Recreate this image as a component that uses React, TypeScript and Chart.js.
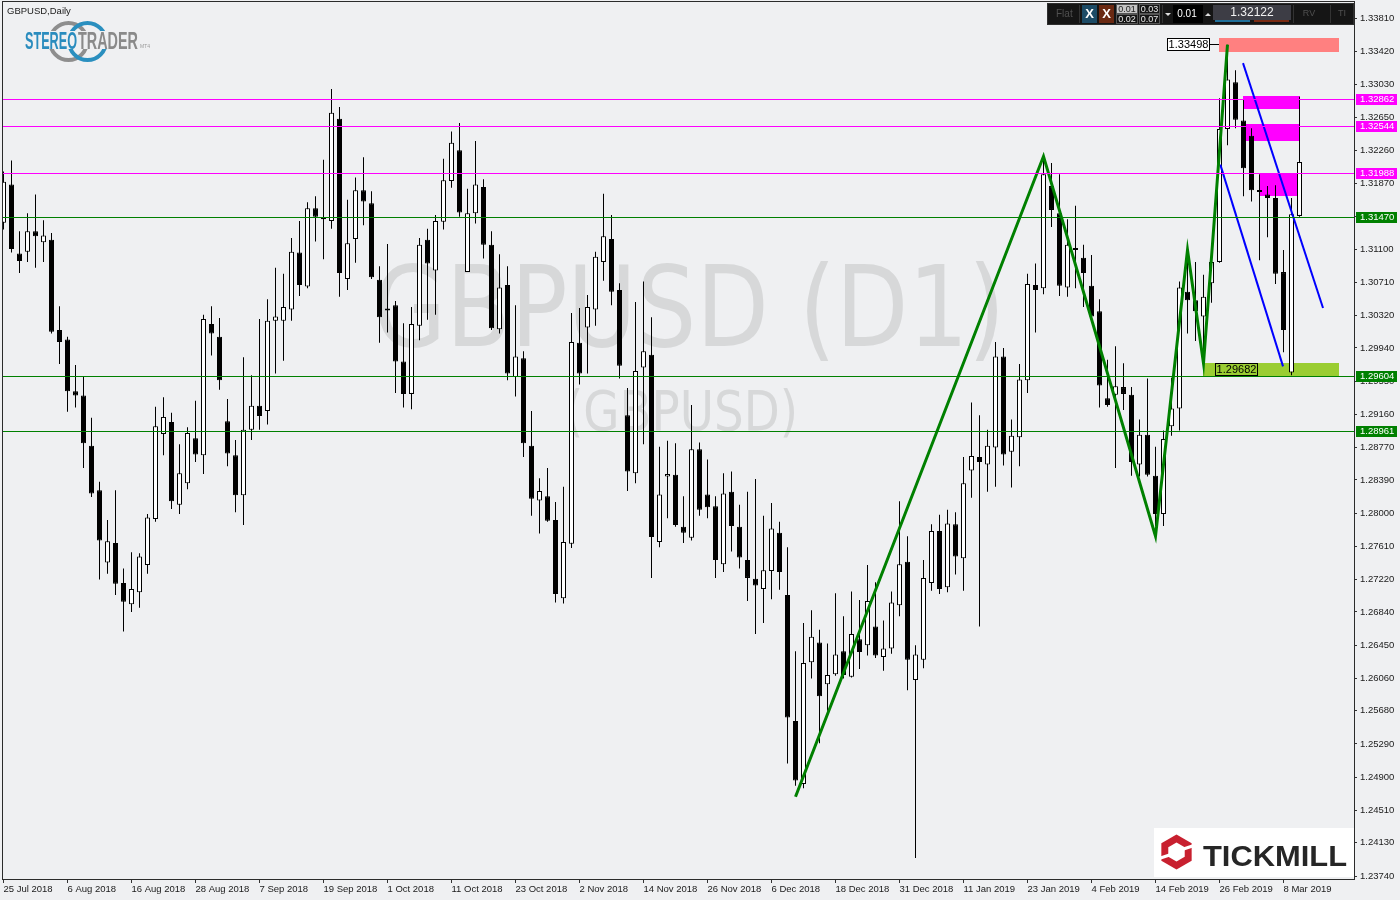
import React, { useEffect, useRef } from 'react';
import { Chart, registerables } from 'chart.js';

Chart.register(...registerables);

const BG = '#EFF0F2';
const FONT = '"Liberation Sans", Arial, sans-serif';

// ---- x axis: one date label every 8 daily bars ----
const dateTicks = ['25 Jul 2018', '6 Aug 2018', '16 Aug 2018', '28 Aug 2018', '7 Sep 2018', '19 Sep 2018', '1 Oct 2018', '11 Oct 2018', '23 Oct 2018', '2 Nov 2018', '14 Nov 2018', '26 Nov 2018', '6 Dec 2018', '18 Dec 2018', '31 Dec 2018', '11 Jan 2019', '23 Jan 2019', '4 Feb 2019', '14 Feb 2019', '26 Feb 2019', '8 Mar 2019'];
const barsPerDateTick = 8;

// ---- y axis tick values ----
const priceTicks = [1.3381, 1.3342, 1.3303, 1.3265, 1.3226, 1.3187, 1.3148, 1.311, 1.3071, 1.3032, 1.2994, 1.2955, 1.2916, 1.2877, 1.2839, 1.28, 1.2761, 1.2722, 1.2684, 1.2645, 1.2606, 1.2568, 1.2529, 1.249, 1.2451, 1.2413, 1.2374];

// ---- OHLC (daily GBPUSD) ----
const opens = [
  1.3141, 1.3186, 1.3105, 1.3107, 1.3131, 1.3118, 1.3121, 1.3015, 1.3004, 1.2943,
  1.2938, 1.2879, 1.2827, 1.2742, 1.2765, 1.2718, 1.2693, 1.2707, 1.2739, 1.2793,
  1.2893, 1.2907, 1.2810, 1.2835, 1.2888, 1.2868, 1.3022, 1.3007, 1.2908, 1.2868,
  1.2821, 1.2898, 1.2926, 1.2920, 1.3026, 1.3026, 1.3039, 1.3106, 1.3066, 1.3158,
  1.3147, 1.3143, 1.3263, 1.3075, 1.3122, 1.3179, 1.3164, 1.3074, 1.3039, 1.3044,
  1.2978, 1.2940, 1.3020, 1.3121, 1.3085, 1.3142, 1.3190, 1.3226, 1.3083, 1.3152,
  1.3183, 1.3115, 1.3016, 1.3068, 1.2960, 1.2982, 1.2879, 1.2815, 1.2820, 1.2792,
  1.2700, 1.2764, 1.3000, 1.3018, 1.3039, 1.3095, 1.3122, 1.3062, 1.2915, 1.2847,
  1.2971, 1.2986, 1.2766, 1.2843, 1.2845, 1.2784, 1.2771, 1.2875, 1.2822, 1.2808,
  1.2740, 1.2825, 1.2784, 1.2745, 1.2723, 1.2711, 1.2732, 1.2777, 1.2704, 1.2556,
  1.2482, 1.2625, 1.2648, 1.2599, 1.2611, 1.2638, 1.2608, 1.2652, 1.2645, 1.2667,
  1.2631, 1.2641, 1.2692, 1.2743, 1.2604, 1.2628, 1.2718, 1.2779, 1.2713, 1.2787,
  1.2747, 1.2850, 1.2866, 1.2857, 1.2877, 1.2984, 1.2872, 1.2889, 1.2956, 1.3068,
  1.3064, 1.3184, 1.3152, 1.3065, 1.3110, 1.3100, 1.3067, 1.3037, 1.2935, 1.2939,
  1.2948, 1.2939, 1.2857, 1.2892, 1.2844, 1.2799, 1.2902, 1.2923, 1.3060, 1.3050,
  1.3031, 1.3070, 1.3095, 1.3251, 1.3306, 1.3261, 1.3243, 1.3177, 1.3174, 1.3170,
  1.3083, 1.2965, 1.3149,
];
const highs = [
  1.3201, 1.3214, 1.3131, 1.3152, 1.3174, 1.3144, 1.3129, 1.3043, 1.3007, 1.2974,
  1.2960, 1.2912, 1.2837, 1.2792, 1.2827, 1.2735, 1.2754, 1.2753, 1.2799, 1.2925,
  1.2936, 1.2918, 1.2881, 1.2901, 1.2932, 1.3033, 1.3043, 1.3029, 1.2934, 1.2886,
  1.2983, 1.2962, 1.3028, 1.3051, 1.3088, 1.3081, 1.3123, 1.3143, 1.3165, 1.3172,
  1.3215, 1.3298, 1.3277, 1.3168, 1.3194, 1.3218, 1.3178, 1.3090, 1.3116, 1.3049,
  1.3023, 1.3042, 1.3123, 1.3134, 1.3150, 1.3216, 1.3248, 1.3258, 1.3181, 1.3237,
  1.3192, 1.3131, 1.3104, 1.3090, 1.3044, 1.2990, 1.2920, 1.2841, 1.2853, 1.2813,
  1.2831, 1.3035, 1.3041, 1.3056, 1.3107, 1.3175, 1.3150, 1.3070, 1.2947, 1.3048,
  1.3072, 1.3030, 1.2878, 1.2885, 1.2882, 1.2820, 1.2927, 1.2883, 1.2863, 1.2820,
  1.2847, 1.2849, 1.2810, 1.2825, 1.2840, 1.2797, 1.2812, 1.2790, 1.2760, 1.2638,
  1.2671, 1.2686, 1.2663, 1.2647, 1.2706, 1.2679, 1.2708, 1.2698, 1.2739, 1.2719,
  1.2674, 1.2708, 1.2814, 1.2773, 1.2645, 1.2745, 1.2787, 1.2798, 1.2804, 1.2801,
  1.2866, 1.2930, 1.2915, 1.2898, 1.3001, 1.2994, 1.2910, 1.2975, 1.3081, 1.3093,
  1.3215, 1.3211, 1.3198, 1.3145, 1.3161, 1.3115, 1.3103, 1.3051, 1.2980, 1.2996,
  1.2976, 1.2948, 1.2910, 1.2958, 1.2878, 1.2897, 1.2959, 1.3072, 1.3109, 1.3095,
  1.3080, 1.3114, 1.3287, 1.3350, 1.3320, 1.3285, 1.3252, 1.3198, 1.3184, 1.3185,
  1.3109, 1.3170, 1.3289,
];
const lows = [
  1.3133, 1.3106, 1.3082, 1.3095, 1.3088, 1.3095, 1.3011, 1.2975, 1.2919, 1.2924,
  1.2853, 1.2819, 1.2722, 1.2729, 1.2704, 1.2661, 1.2684, 1.2689, 1.2729, 1.2790,
  1.2868, 1.2805, 1.2799, 1.2828, 1.2860, 1.2846, 1.2985, 1.2945, 1.2855, 1.2801,
  1.2786, 1.2886, 1.2898, 1.2904, 1.2964, 1.2979, 1.3026, 1.3055, 1.3064, 1.3119,
  1.3098, 1.3134, 1.3054, 1.3062, 1.3094, 1.3138, 1.3075, 1.3000, 1.3012, 1.2941,
  1.2924, 1.2922, 1.3003, 1.3027, 1.3033, 1.3133, 1.3182, 1.3148, 1.3083, 1.3140,
  1.3099, 1.3015, 1.3011, 1.2956, 1.2937, 1.2866, 1.2797, 1.2776, 1.2790, 1.2695,
  1.2694, 1.2759, 1.2951, 1.2964, 1.3020, 1.3073, 1.3044, 1.2958, 1.2826, 1.2835,
  1.2881, 1.2724, 1.2760, 1.2794, 1.2784, 1.2765, 1.2768, 1.2797, 1.2794, 1.2724,
  1.2731, 1.2755, 1.2735, 1.2697, 1.2658, 1.2671, 1.2699, 1.2710, 1.2506, 1.2480,
  1.2477, 1.2606, 1.2530, 1.2568, 1.2609, 1.2606, 1.2607, 1.2617, 1.2633, 1.2630,
  1.2615, 1.2635, 1.2679, 1.2592, 1.2395, 1.2618, 1.2709, 1.2705, 1.2707, 1.2728,
  1.2709, 1.2818, 1.2667, 1.2825, 1.2831, 1.2856, 1.2830, 1.2855, 1.2941, 1.3012,
  1.3057, 1.3136, 1.3055, 1.3054, 1.3064, 1.3042, 1.3029, 1.2924, 1.2925, 1.2853,
  1.2921, 1.2844, 1.2843, 1.2843, 1.2785, 1.2785, 1.2891, 1.2897, 1.3011, 1.3002,
  1.2974, 1.3047, 1.3094, 1.3232, 1.3252, 1.3172, 1.3166, 1.3097, 1.3124, 1.3069,
  1.2989, 1.2962, 1.3148,
];
const closes = [
  1.3189, 1.3110, 1.3096, 1.3131, 1.3125, 1.3126, 1.3013, 1.3001, 1.2943, 1.2938,
  1.2882, 1.2823, 1.2768, 1.2767, 1.2717, 1.2696, 1.2711, 1.2749, 1.2795, 1.2902,
  1.2913, 1.2814, 1.2847, 1.2894, 1.2869, 1.3028, 1.3011, 1.2956, 1.2870, 1.2821,
  1.2898, 1.2926, 1.2914, 1.3026, 1.3031, 1.3042, 1.3107, 1.3068, 1.3158, 1.3148,
  1.3145, 1.3270, 1.3082, 1.3117, 1.3179, 1.3166, 1.3077, 1.3030, 1.3038, 1.2978,
  1.2940, 1.3022, 1.3115, 1.3093, 1.3143, 1.3191, 1.3235, 1.3153, 1.3152, 1.3186,
  1.3115, 1.3017, 1.3065, 1.2964, 1.2984, 1.2882, 1.2817, 1.2826, 1.2791, 1.2705,
  1.2766, 1.3001, 1.2964, 1.3042, 1.3101, 1.3125, 1.3060, 1.2973, 1.2849, 1.2967,
  1.2990, 1.2772, 1.2822, 1.2846, 1.2786, 1.2777, 1.2875, 1.2804, 1.2807, 1.2745,
  1.2823, 1.2785, 1.2748, 1.2724, 1.2715, 1.2733, 1.2782, 1.2731, 1.2560, 1.2486,
  1.2624, 1.2655, 1.2585, 1.2610, 1.2634, 1.2610, 1.2658, 1.2637, 1.2697, 1.2633,
  1.2641, 1.2695, 1.2740, 1.2628, 1.2634, 1.2724, 1.2779, 1.2711, 1.2788, 1.2749,
  1.2835, 1.2867, 1.2860, 1.2879, 1.2984, 1.2869, 1.2891, 1.2957, 1.3069, 1.3062,
  1.3198, 1.3156, 1.3067, 1.3115, 1.3109, 1.3082, 1.3031, 1.2950, 1.2927, 1.2949,
  1.2940, 1.2860, 1.2892, 1.2845, 1.2799, 1.2887, 1.2923, 1.3065, 1.3050, 1.3037,
  1.3054, 1.3095, 1.3251, 1.3309, 1.3262, 1.3205, 1.3179, 1.3179, 1.3170, 1.3081,
  1.3015, 1.3151, 1.32122,
];
const currentPrice = 1.32122;

// ---- horizontal levels ----
const levelPrices = [1.32862, 1.32544, 1.31988, 1.3147, 1.29604, 1.28961];
const levelKinds = ['res', 'res', 'res', 'sup', 'sup', 'sup'];

// ---- zigzag (bar index, price) ----
const zigzagBars = [99, 130, 144, 148, 150, 153];
const zigzagPrices = [1.2467, 1.3219, 1.2773, 1.3109, 1.2976, 1.3350];

// ---- channel lines ----
const upperChannelBars = [154.94, 164.94];
const upperChannelPrices = [1.33284, 1.30409];
const lowerChannelBars = [152.1, 159.94];
const lowerChannelPrices = [1.32092, 1.29723];

// ---- zones (bar index range, price range) ----
const zoneStart = [151.94, 154.97, 155.3, 157.0, 149.9];
const zoneEnd = [166.9, 162, 162, 161.7, 166.9];
const zoneHigh = [1.33578, 1.32899, 1.32569, 1.3199, 1.29763];
const zoneLow = [1.33419, 1.32748, 1.32375, 1.31727, 1.29604];
const zoneKinds = ['target', 'sell', 'sell', 'sell', 'buy'];

// ---- price markers ----
const markerBars = [151.94, 151.45];
const markerPrices = [1.33498, 1.29682];
const markerSides = ['left', 'right'];

const COLORS: any = {
  res: '#FF00FF', sup: '#008000', target: '#FF8080', sell: '#FF00FF', buy: '#9ACD32',
};

function fitText(ctx: any, text: string, font: string, left: number, right: number, baseline: number, color: string) {
  ctx.save();
  ctx.font = font;
  ctx.fillStyle = color;
  ctx.textAlign = 'left';
  ctx.textBaseline = 'alphabetic';
  const w = ctx.measureText(text).width;
  ctx.translate(left, baseline);
  ctx.scale((right - left) / w, 1);
  ctx.fillText(text, 0, 0);
  ctx.restore();
}

function drawToolbar(ctx: any) {
  ctx.save();
  ctx.fillStyle = '#151515';
  ctx.fillRect(1047, 3, 307, 22);
  ctx.strokeStyle = '#2f2f2f';
  ctx.lineWidth = 1;
  ctx.strokeRect(1047.5, 3.5, 306, 21);
  ctx.textBaseline = 'middle';
  ctx.textAlign = 'left';
  ctx.font = `10px ${FONT}`;
  ctx.fillStyle = '#505050';
  ctx.fillText('Flat', 1056, 14);
  ctx.strokeStyle = '#333333';
  [1079.5, 1162.5, 1293.5, 1330.5].forEach((x) => {
    ctx.beginPath(); ctx.moveTo(x, 5); ctx.lineTo(x, 23); ctx.stroke();
  });
  ctx.fillStyle = '#1c4b66';
  ctx.fillRect(1082, 5, 15, 18);
  ctx.fillStyle = '#6a2912';
  ctx.fillRect(1099, 5, 15, 18);
  ctx.fillStyle = '#ffffff';
  ctx.font = `bold 13px ${FONT}`;
  ctx.textAlign = 'center';
  ctx.fillText('X', 1089.5, 14.5);
  ctx.fillText('X', 1106.5, 14.5);
  // lot grid
  ctx.fillStyle = '#c4c4c4';
  ctx.fillRect(1117, 5, 20, 8);
  ctx.strokeStyle = '#555555';
  ctx.strokeRect(1116.5, 4.5, 21, 9);
  ctx.strokeRect(1139.5, 4.5, 20, 9);
  ctx.strokeRect(1116.5, 14.5, 21, 9);
  ctx.strokeRect(1139.5, 14.5, 20, 9);
  ctx.font = `9px ${FONT}`;
  ctx.fillStyle = '#222222';
  ctx.fillText('0.01', 1127, 9.5);
  ctx.fillStyle = '#e8e8e8';
  ctx.fillText('0.03', 1149.5, 9.5);
  ctx.fillText('0.02', 1127, 19.5);
  ctx.fillText('0.07', 1149.5, 19.5);
  // arrows + lot box
  ctx.fillStyle = '#dddddd';
  ctx.beginPath(); ctx.moveTo(1165, 13); ctx.lineTo(1171, 13); ctx.lineTo(1168, 16); ctx.closePath(); ctx.fill();
  ctx.beginPath(); ctx.moveTo(1205, 16); ctx.lineTo(1211, 16); ctx.lineTo(1208, 13); ctx.closePath(); ctx.fill();
  ctx.fillStyle = '#000000';
  ctx.fillRect(1173, 5, 30, 18);
  ctx.fillStyle = '#ffffff';
  ctx.font = `10px ${FONT}`;
  ctx.fillText('0.01', 1187, 14.5);
  // price box
  ctx.fillStyle = '#3d3d45';
  ctx.fillRect(1213, 5, 78, 15);
  ctx.fillStyle = '#f2f2f2';
  ctx.font = `12px ${FONT}`;
  ctx.fillText(currentPrice.toFixed(5), 1252, 12.5);
  ctx.fillStyle = '#1f6f9a';
  ctx.fillRect(1215, 20, 35, 2);
  ctx.fillStyle = '#7a2a12';
  ctx.fillRect(1254, 20, 35, 2);
  ctx.fillStyle = '#505050';
  ctx.font = `9px ${FONT}`;
  ctx.fillText('RV', 1309, 14);
  ctx.fillText('TI', 1342, 14);
  ctx.restore();
}

function drawStereoLogo(ctx: any) {
  ctx.save();
  ctx.lineWidth = 4;
  ctx.strokeStyle = '#8e8e8e';
  ctx.beginPath(); ctx.arc(68.5, 41.5, 18.5, 0, Math.PI * 2); ctx.stroke();
  ctx.strokeStyle = '#2a8fbf';
  ctx.beginPath(); ctx.arc(87.5, 41.5, 18.5, 0, Math.PI * 2); ctx.stroke();
  ctx.fillStyle = BG;
  ctx.fillRect(24, 31, 120, 18);
  fitText(ctx, 'STEREO', `bold 23px ${FONT}`, 25, 77, 48.5, '#2a8cbe');
  fitText(ctx, 'TRADER', `bold 23px ${FONT}`, 78, 138, 48.5, '#8a8a8a');
  ctx.fillStyle = '#9a9a9a';
  ctx.font = `5px ${FONT}`;
  ctx.fillText('MT4', 140, 48);
  ctx.fillStyle = '#202020';
  ctx.font = `9.5px ${FONT}`;
  ctx.textBaseline = 'middle';
  ctx.fillText('GBPUSD,Daily', 7, 11);
  ctx.restore();
}

function drawTickmill(ctx: any) {
  ctx.save();
  ctx.fillStyle = '#ffffff';
  ctx.fillRect(1154, 828, 200, 49);
  const cx = 1176.5, cy = 852;
  const hex = (rad: number) => {
    ctx.beginPath();
    for (let i = 0; i < 6; i++) {
      const a = -Math.PI / 2 + (i * Math.PI) / 3;
      const px = cx + rad * Math.cos(a), py = cy + rad * Math.sin(a);
      if (i) ctx.lineTo(px, py); else ctx.moveTo(px, py);
    }
    ctx.closePath();
  };
  ctx.fillStyle = '#C8202F';
  hex(17.5); ctx.fill();
  ctx.fillStyle = '#ffffff';
  hex(9.5); ctx.fill();
  ctx.strokeStyle = '#ffffff';
  ctx.lineWidth = 3;
  ctx.beginPath(); ctx.moveTo(cx + 7, cy - 3); ctx.lineTo(cx + 19, cy - 7); ctx.stroke();
  ctx.beginPath(); ctx.moveTo(cx - 7, cy + 3); ctx.lineTo(cx - 19, cy + 7); ctx.stroke();
  fitText(ctx, 'TICKMILL', `bold 29px ${FONT}`, 1203, 1347, 866, '#262626');
  ctx.restore();
}

const overlayPlugin = {
  id: 'mt4Overlay',
  beforeDraw(chart: any) {
    const ctx = chart.ctx;
    ctx.save();
    ctx.fillStyle = BG;
    ctx.fillRect(0, 0, chart.width, chart.height);
    ctx.restore();
  },
  beforeDatasetsDraw(chart: any) {
    const ctx = chart.ctx;
    const { x, y } = chart.scales;
    const area = chart.chartArea;
    ctx.save();
    ctx.beginPath();
    ctx.rect(area.left, area.top, area.right - area.left, area.bottom - area.top);
    ctx.clip();
    fitText(ctx, 'GBPUSD (D1)', '112px "DejaVu Sans", sans-serif', 373, 1005, 346, '#D7D8D9');
    fitText(ctx, '(GBPUSD)', '55px "DejaVu Sans", sans-serif', 565, 798, 430, '#D7D8D9');
    zoneStart.forEach((s, i) => {
      const x0 = x.getPixelForValue(s), x1 = x.getPixelForValue(zoneEnd[i]);
      const y0 = y.getPixelForValue(zoneHigh[i]), y1 = y.getPixelForValue(zoneLow[i]);
      ctx.fillStyle = COLORS[zoneKinds[i]];
      ctx.fillRect(Math.round(x0), Math.round(y0), Math.round(x1) - Math.round(x0), Math.round(y1) - Math.round(y0));
    });
    ctx.restore();
  },
  afterDatasetsDraw(chart: any) {
    const ctx = chart.ctx;
    const { x, y } = chart.scales;
    const area = chart.chartArea;
    ctx.save();
    ctx.lineWidth = 1;
    levelPrices.forEach((p, i) => {
      const py = Math.floor(y.getPixelForValue(p)) + 0.5;
      ctx.strokeStyle = COLORS[levelKinds[i]];
      ctx.beginPath(); ctx.moveTo(area.left, py); ctx.lineTo(area.right, py); ctx.stroke();
    });
    ctx.font = `11px ${FONT}`;
    ctx.textBaseline = 'middle';
    ctx.textAlign = 'center';
    markerBars.forEach((b, i) => {
      const ax = Math.round(x.getPixelForValue(b));
      const ay = Math.floor(y.getPixelForValue(markerPrices[i])) + 0.5;
      const w = 42, h = 12;
      const left = markerSides[i] === 'left' ? ax - 10 - w : ax;
      if (markerSides[i] === 'left') {
        ctx.strokeStyle = '#000';
        ctx.beginPath(); ctx.moveTo(ax - 10, ay); ctx.lineTo(ax, ay); ctx.stroke();
        ctx.fillStyle = '#ffffff';
      } else {
        ctx.fillStyle = COLORS.buy;
      }
      ctx.fillRect(left + 0.5, ay - 6, w, h);
      ctx.strokeStyle = '#000';
      ctx.strokeRect(left + 0.5, ay - 6, w, h);
      ctx.fillStyle = '#000';
      ctx.fillText(markerPrices[i].toFixed(5), left + 0.5 + w / 2, ay + 0.5);
    });
    ctx.restore();
  },
  afterDraw(chart: any) {
    const ctx = chart.ctx;
    const { y } = chart.scales;
    const area = chart.chartArea;
    drawTickmill(ctx);
    ctx.save();
    ctx.font = `9.5px ${FONT}`;
    ctx.textBaseline = 'middle';
    ctx.textAlign = 'left';
    levelPrices.forEach((p, i) => {
      const py = Math.floor(y.getPixelForValue(p));
      ctx.fillStyle = COLORS[levelKinds[i]];
      ctx.fillRect(area.right + 2, py - 5, 41, 11);
      ctx.fillStyle = '#ffffff';
      ctx.fillText(p.toFixed(5), area.right + 6, py + 0.5);
    });
    ctx.strokeStyle = '#2b2b2b';
    ctx.lineWidth = 1;
    ctx.strokeRect(area.left + 0.5, area.top + 0.5, area.right - area.left, area.bottom - area.top);
    ctx.restore();
    drawToolbar(ctx);
    drawStereoLogo(ctx);
  },
};

export default function App() {
  const ref = useRef<HTMLCanvasElement>(null);
  useEffect(() => {
    document.body.style.margin = '0';
    const idx = opens.map((_, i) => i);
    const chart = new Chart(ref.current as HTMLCanvasElement, {
      type: 'bar',
      data: {
        datasets: [
          {
            type: 'line', label: 'zigzag',
            data: zigzagBars.map((b, i) => ({ x: b, y: zigzagPrices[i] })),
            borderColor: '#008000', borderWidth: 3, pointRadius: 0, tension: 0, order: 0,
          },
          {
            type: 'line', label: 'upper',
            data: upperChannelBars.map((b, i) => ({ x: b, y: upperChannelPrices[i] })),
            borderColor: '#0000FF', borderWidth: 2, pointRadius: 0, order: 0,
          },
          {
            type: 'line', label: 'lower',
            data: lowerChannelBars.map((b, i) => ({ x: b, y: lowerChannelPrices[i] })),
            borderColor: '#0000FF', borderWidth: 2, pointRadius: 0, order: 0,
          },
          {
            type: 'bar', label: 'bodies',
            data: idx.map((i) => ({ x: i, y: [opens[i], closes[i]] })),
            backgroundColor: idx.map((i) => (closes[i] >= opens[i] ? '#FFFFFF' : '#000000')),
            borderColor: '#000000', borderWidth: 1, borderSkipped: false,
            barThickness: 5, grouped: false, minBarLength: 2, inflateAmount: 0, order: 1,
          },
          {
            type: 'bar', label: 'wicks',
            data: idx.map((i) => ({ x: i, y: [lows[i], highs[i]] })),
            backgroundColor: '#000000', borderWidth: 0,
            barThickness: 1, grouped: false, inflateAmount: 0, order: 2,
          },
        ] as any,
      },
      options: {
        responsive: false,
        animation: false,
        devicePixelRatio: 1,
        events: [],
        layout: { padding: { left: 2, top: 1, right: 0, bottom: 0 } },
        plugins: { legend: { display: false }, tooltip: { enabled: false } },
        scales: {
          x: {
            type: 'linear', offset: false, bounds: 'data',
            min: -0.1875, max: 168.8125,
            afterBuildTicks: (s: any) => { s.ticks = dateTicks.map((_, i) => ({ value: i * barsPerDateTick })); },
            afterFit: (s: any) => { s.height = 21; s.paddingLeft = 0; s.paddingRight = 0; },
            grid: { drawOnChartArea: false, drawTicks: true, tickLength: 4, color: '#333333', offset: false },
            border: { display: false },
            ticks: {
              autoSkip: false, maxRotation: 0, minRotation: 0, align: 'start', padding: 1,
              color: '#1a1a1a', font: { family: FONT, size: 9.5 },
              callback: (_v: any, i: number) => dateTicks[i] ?? '',
            },
          },
          y: {
            type: 'linear', position: 'right', bounds: 'data', beginAtZero: false,
            min: 1.237048, max: 1.340131,
            afterBuildTicks: (s: any) => { s.ticks = priceTicks.map((v) => ({ value: v })); },
            afterFit: (s: any) => { s.width = 46; s.paddingTop = 0; s.paddingBottom = 0; },
            grid: { drawOnChartArea: false, drawTicks: true, tickLength: 3, color: '#333333' },
            border: { display: false },
            ticks: {
              autoSkip: false, padding: 3, color: '#1a1a1a', font: { family: FONT, size: 9.5 },
              callback: (v: any) => Number(v).toFixed(5),
            },
          },
        },
      } as any,
      plugins: [overlayPlugin],
    });
    return () => chart.destroy();
  }, []);
  return (
    <div style={{ position: 'absolute', left: 0, top: 0, width: 1400, height: 900 }}>
      <canvas ref={ref} width={1400} height={900} style={{ display: 'block', width: 1400, height: 900 }} />
    </div>
  );
}
